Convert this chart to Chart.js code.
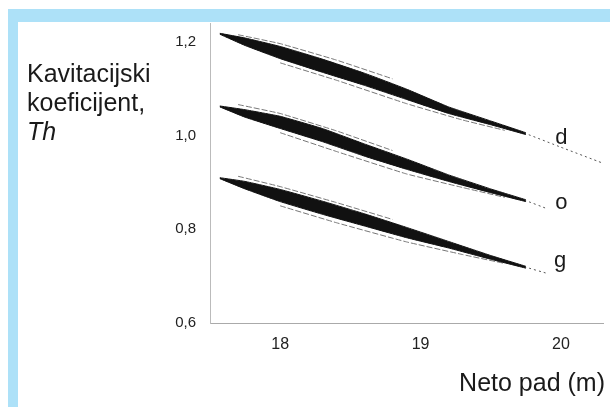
<!DOCTYPE html>
<html>
<head>
<meta charset="utf-8">
<style>
html,body{margin:0;padding:0;background:#fff;width:610px;height:407px;overflow:hidden}
#topband{position:absolute;left:8px;top:9px;width:602px;height:13px;background:#ade1f8}
#leftband{position:absolute;left:8px;top:9px;width:10px;height:398px;background:#ade1f8}
#wrap{position:absolute;left:0;top:0;width:610px;height:407px}
</style>
<script src="https://cdn.jsdelivr.net/npm/chart.js"></script>
</head>
<body>
<div id="topband"></div>
<div id="leftband"></div>
<div id="wrap"><canvas id="c" width="610" height="407"></canvas></div>
<script>
// Tick values
const xTicks = [18, 19, 20];
const yTicks = [0.6, 0.8, 1.0, 1.2];

// Shared x positions of the thick bands (Neto pad, m)
const xBand = [17.57, 17.75, 18.0, 18.3, 18.6, 18.9, 19.2, 19.5, 19.75];

// Band d (upper / lower edge)
const dUpper = [1.218, 1.208, 1.190, 1.163, 1.133, 1.099, 1.061, 1.031, 1.006];
const dLower = [1.216, 1.192, 1.164, 1.135, 1.107, 1.077, 1.047, 1.023, 1.002];
// Band o
const oUpper = [1.063, 1.055, 1.041, 1.015, 0.982, 0.950, 0.916, 0.886, 0.863];
const oLower = [1.061, 1.039, 1.015, 0.987, 0.956, 0.928, 0.902, 0.878, 0.859];
// Band g
const gUpper = [0.910, 0.902, 0.885, 0.860, 0.833, 0.804, 0.774, 0.744, 0.721];
const gLower = [0.908, 0.886, 0.859, 0.832, 0.807, 0.782, 0.760, 0.736, 0.717];

// Thin tails
const dTailX = [19.5, 19.75, 20.0, 20.29];
const dTailY = [1.027, 1.004, 0.975, 0.942];
const oTailX = [19.5, 19.75, 19.9];
const oTailY = [0.882, 0.861, 0.844];
const gTailX = [19.5, 19.75, 19.9];
const gTailY = [0.740, 0.719, 0.706];

// Thin scribble fringes
const hiFringeX = [17.7, 18.0, 18.4, 18.8];
const loFringeX = [18.0, 18.4, 18.9, 19.3, 19.6];
const dHiFringe = [1.215, 1.196, 1.161, 1.121];
const dLoFringe = [1.155, 1.118, 1.068, 1.033, 1.011];
const oHiFringe = [1.066, 1.047, 1.010, 0.968];
const oLoFringe = [1.006, 0.966, 0.918, 0.889, 0.868];
const gHiFringe = [0.913, 0.891, 0.857, 0.821];
const gLoFringe = [0.850, 0.814, 0.773, 0.746, 0.727];

// Curve labels
const curveNames = ['d', 'o', 'g'];
const curveLabelX = [19.96, 19.96, 19.95];
const curveLabelY = [0.982, 0.844, 0.719];

const FONT = '"Liberation Sans", Arial, Helvetica, sans-serif';
const pts = (xs, ys) => xs.map((x, i) => ({x: x, y: ys[i]}));

function band(up, lo) {
  return [
    {data: pts(xBand, up), borderColor: '#111', borderWidth: 1, fill: false, pointRadius: 0, tension: 0.1},
    {data: pts(xBand, lo), borderColor: '#111', borderWidth: 1, fill: '-1', backgroundColor: '#111', pointRadius: 0, tension: 0.1}
  ];
}
function thin(xs, ys, color, dash, w) {
  return {data: pts(xs, ys), borderColor: color, borderWidth: w, borderDash: dash, fill: false, pointRadius: 0, tension: 0.1};
}

const datasets = [
  ...band(dUpper, dLower),
  ...band(oUpper, oLower),
  ...band(gUpper, gLower),
  thin(dTailX, dTailY, '#555', [2, 3], 1),
  thin(oTailX, oTailY, '#555', [2, 3], 1),
  thin(gTailX, gTailY, '#555', [2, 3], 1),
  thin(hiFringeX, dHiFringe, '#777', [6, 2], 1),
  thin(loFringeX, dLoFringe, '#777', [6, 2], 1),
  thin(hiFringeX, oHiFringe, '#777', [6, 2], 1),
  thin(loFringeX, oLoFringe, '#777', [6, 2], 1),
  thin(hiFringeX, gHiFringe, '#777', [6, 2], 1),
  thin(loFringeX, gLoFringe, '#777', [6, 2], 1)
];

const textPlugin = {
  id: 'texts',
  afterDraw(chart) {
    const ctx = chart.ctx;
    const xs = chart.scales.x, ys = chart.scales.y;
    ctx.save();
    ctx.fillStyle = '#1a1a1a';
    ctx.textAlign = 'left';
    ctx.textBaseline = 'alphabetic';
    ctx.font = '25px ' + FONT;
    ctx.fillText('Kavitacijski', 27, 82);
    ctx.fillText('koeficijent,', 27, 111);
    ctx.font = 'italic 25px ' + FONT;
    ctx.fillText('Th', 27, 140);
    ctx.font = '25px ' + FONT;
    ctx.textAlign = 'right';
    ctx.fillText('Neto pad (m)', 605, 391);
    ctx.textAlign = 'left';
    ctx.font = '22px ' + FONT;
    curveNames.forEach((n, i) => {
      ctx.fillText(n, xs.getPixelForValue(curveLabelX[i]), ys.getPixelForValue(curveLabelY[i]));
    });
    ctx.restore();
  }
};

new Chart(document.getElementById('c'), {
  type: 'line',
  data: {datasets: datasets},
  options: {
    responsive: false,
    animation: false,
    devicePixelRatio: 1,
    layout: {padding: {top: 22, right: 7, left: 0, bottom: 0}},
    plugins: {legend: {display: false}, tooltip: {enabled: false}, title: {display: false}},
    scales: {
      x: {
        type: 'linear', min: 17.5, max: 20.3,
        afterFit(s) { s.height = 84; },
        afterBuildTicks(s) { s.ticks = xTicks.map(v => ({value: v})); },
        grid: {display: false, drawTicks: false},
        border: {display: true, color: '#aaa', dash: [1, 4], width: 1},
        ticks: {padding: 12, color: '#222', font: {size: 16, family: FONT}, callback: v => String(v)}
      },
      y: {
        type: 'linear', min: 0.6, max: 1.24,
        afterFit(s) { s.width = 210; },
        afterBuildTicks(s) { s.ticks = yTicks.map(v => ({value: v})); },
        grid: {display: false, drawTicks: false},
        border: {display: true, color: '#bbb', dash: [1, 3], width: 1},
        ticks: {padding: 14, color: '#222', font: {size: 15, family: FONT}, callback: v => v.toFixed(1).replace('.', ',')}
      }
    }
  },
  plugins: [textPlugin]
});
</script>
</body>
</html>
